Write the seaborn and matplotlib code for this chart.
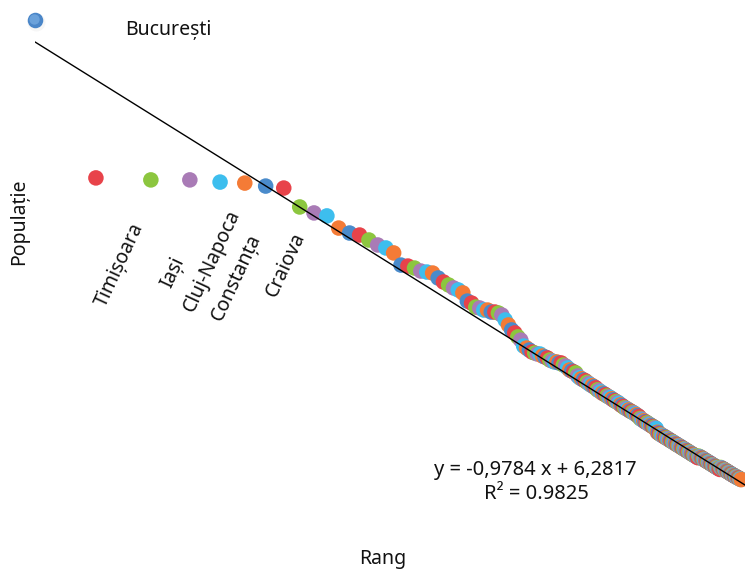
import numpy as np
import pandas as pd
import matplotlib
matplotlib.use("Agg")
import matplotlib.pyplot as plt
import matplotlib.transforms as mtransforms
import seaborn as sns

# ---------------- data ----------------
# log10(population) of Romanian towns, ordered by rank (rank 1 = București)
log_pop = [
    6.287, 5.495, 5.485, 5.485, 5.474, 5.469, 5.454, 5.444, 5.349, 5.319,
    5.304, 5.243, 5.218, 5.208, 5.183, 5.158, 5.143, 5.118, 5.057, 5.052,
    5.042, 5.027, 5.022, 5.017, 4.992, 4.972, 4.957, 4.942, 4.932, 4.917,
    4.876, 4.866, 4.846, 4.841, 4.831, 4.831, 4.821, 4.821, 4.816, 4.806,
    4.781, 4.756, 4.731, 4.716, 4.696, 4.680, 4.650, 4.640, 4.630, 4.620,
    4.615, 4.610, 4.610, 4.600, 4.595, 4.590, 4.580, 4.575, 4.570, 4.570,
    4.565, 4.565, 4.555, 4.550, 4.540, 4.530, 4.525, 4.520, 4.515, 4.500,
    4.491, 4.486, 4.480, 4.476, 4.468, 4.462, 4.455, 4.451, 4.445, 4.440,
    4.430, 4.426, 4.420, 4.413, 4.410, 4.405, 4.399, 4.395, 4.391, 4.385,
    4.380, 4.375, 4.371, 4.367, 4.362, 4.355, 4.351, 4.346, 4.340, 4.337,
    4.333, 4.329, 4.324, 4.321, 4.317, 4.314, 4.309, 4.305, 4.300, 4.296,
    4.286, 4.283, 4.278, 4.275, 4.270, 4.267, 4.264, 4.259, 4.256, 4.252,
    4.249, 4.245, 4.242, 4.239, 4.235, 4.217, 4.214, 4.210, 4.206, 4.203,
    4.200, 4.197, 4.194, 4.190, 4.188, 4.185, 4.181, 4.178, 4.175, 4.172,
    4.169, 4.166, 4.163, 4.160, 4.157, 4.154, 4.151, 4.149, 4.146, 4.143,
    4.140, 4.137, 4.134, 4.132, 4.129, 4.126, 4.123, 4.121, 4.118, 4.115,
    4.113, 4.110, 4.107, 4.105, 4.102, 4.100, 4.097, 4.095, 4.092, 4.089,
    4.097, 4.094, 4.092, 4.090, 4.087, 4.085, 4.082, 4.080, 4.077, 4.075,
    4.073, 4.070, 4.068, 4.066, 4.064, 4.061, 4.059, 4.057, 4.054, 4.052,
    4.050, 4.048, 4.046, 4.043, 4.041, 4.039, 4.037, 4.035, 4.033, 4.030,
    4.040, 4.038, 4.036, 4.034, 4.032, 4.030, 4.028, 4.026, 4.024, 4.022,
    4.020, 4.018, 4.016, 4.014, 4.012, 4.010, 4.008, 4.006, 4.004, 4.002,
    4.001, 3.999, 3.997, 3.995, 3.994, 3.992, 3.990, 3.989, 3.987, 3.986,
    3.984, 3.982, 3.980, 3.979,
]
label_cities = ["București", "Timișoara", "Iași", "Cluj-Napoca", "Constanța", "Craiova"]
slope = -0.9784
intercept = 6.2817
r_squared = 0.9825
x_label = "Rang"
y_label = "Populație"
point_colors = ["#4A8BCB", "#E8434A", "#8CC63F", "#A97BB6", "#3DBEEE", "#F47B36"]

# ---------------- frame ----------------
ranks = np.arange(1, len(log_pop) + 1)
df = pd.DataFrame({
    "log_rank": np.log10(ranks),
    "log_pop": log_pop,
    "group": [str((r - 1) % 6) for r in ranks],
})

sns.set_theme(style="white")
plt.rcParams["font.family"] = ["Noto Sans", "DejaVu Sans"]
plt.rcParams["text.color"] = "#111111"
plt.rcParams["axes.labelcolor"] = "#111111"

W, H = 747, 571
fig = plt.figure(figsize=(W / 100, H / 100), dpi=100)
ax_l, ax_r, ax_t, ax_b = 35, 745, 20, 490
ax = fig.add_axes([ax_l / W, 1 - ax_b / H, (ax_r - ax_l) / W, (ax_b - ax_t) / H])

x_lo, x_hi = 0.1058, 2.3814
y_lo, y_hi = 3.9267, 6.2885
ax.set_xlim(x_lo, x_hi)
ax.set_ylim(y_lo, y_hi)

rest = df.iloc[1:]
palette = {str(i): c for i, c in enumerate(point_colors)}
sns.scatterplot(data=rest, x="log_rank", y="log_pop", hue="group", palette=palette,
                s=125, linewidth=0, legend=False, ax=ax, zorder=3, alpha=1)

# Bucharest: shown at left edge with a shaded marker
bx = max(df["log_rank"].iloc[0], x_lo)
by = df["log_pop"].iloc[0]
shadow = mtransforms.offset_copy(ax.transData, fig=fig, x=1.0, y=-1.5, units="dots")
ax.scatter([bx], [by], s=170, color="#000000", alpha=0.035, linewidth=0,
           transform=shadow, clip_on=False, zorder=2)
ax.scatter([bx], [by], s=125, color="#4A86C8", linewidth=0, clip_on=False, zorder=4)
hl = mtransforms.offset_copy(ax.transData, fig=fig, x=-1.2, y=1.6, units="dots")
ax.scatter([bx], [by], s=55, color="#79ADE3", alpha=0.7, linewidth=0,
           transform=hl, clip_on=False, zorder=5)

# regression line
xs = np.array([x_lo, x_hi])
sns.lineplot(x=xs, y=slope * xs + intercept, color="black", linewidth=1.0, ax=ax, zorder=6)

# labels
ax.set_xticks([])
ax.set_yticks([])
sns.despine(ax=ax, left=True, bottom=True)
ax.set_xlabel(x_label, fontsize=14)
ax.set_ylabel(y_label, fontsize=14)
ax.xaxis.set_label_coords((383 - ax_l) / (ax_r - ax_l), (ax_b - 549) / (ax_b - ax_t))
ax.yaxis.set_label_coords((29 - ax_l) / (ax_r - ax_l), (ax_b - 222) / (ax_b - ax_t))

fig.text(168 / W, 1 - 30 / H, label_cities[0], ha="center", va="center", fontsize=14)

label_anchor_px = [(148, 220), (189, 254), (244, 207), (265, 231), (310, 229)]
for name, (px, py) in zip(label_cities[1:], label_anchor_px):
    fig.text(px / W, 1 - py / H, name, rotation=65, ha="right", va="top", fontsize=14)

eq = f"y = {slope:.4f} x + {intercept:.4f}".replace(".", ",")
fig.text(535 / W, 1 - 470 / H, eq, ha="center", va="center", fontsize=14.5)
fig.text(536 / W, 1 - 494 / H, f"R² = {r_squared:.4f}", ha="center", va="center", fontsize=14.5)

fig.savefig("out.png", dpi=100, facecolor="white")
